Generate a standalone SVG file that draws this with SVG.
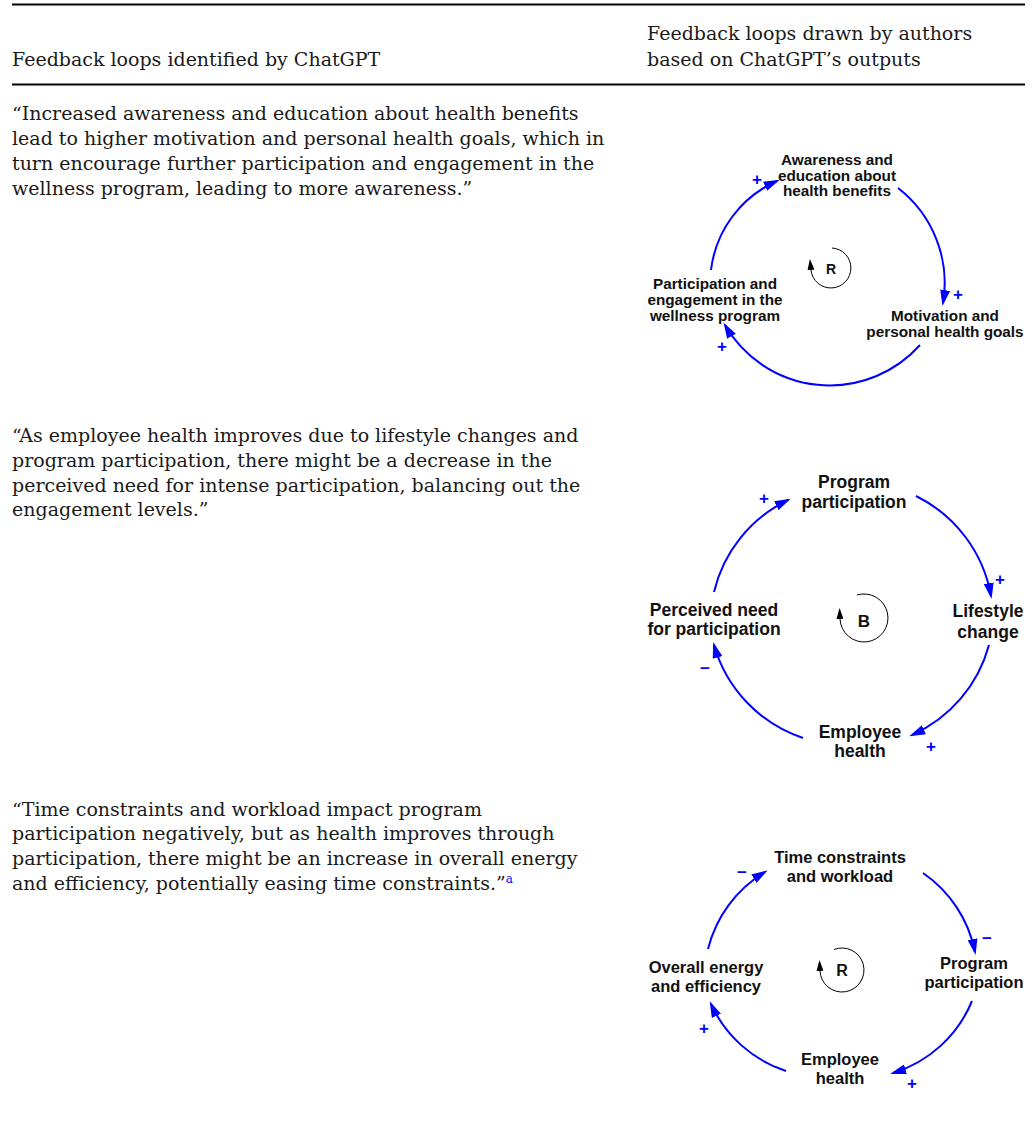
<svg xmlns="http://www.w3.org/2000/svg" width="1034" height="1138" viewBox="0 0 1034 1138">
<defs>
<style>
.body{font-family:"DejaVu Serif","Liberation Serif",serif;font-size:19px;fill:#1a1a1a}
.node{font-family:"Liberation Sans",Arial,sans-serif;font-weight:bold;fill:#111;text-anchor:middle}
.n1{font-size:15.3px}
.n2{font-size:17.5px}
.n3{font-size:16.5px}
.sign{font-family:"Liberation Sans",Arial,sans-serif;font-weight:bold;font-size:17px;fill:#0000ff;text-anchor:middle}
.link{fill:none;stroke:#0000ff;stroke-width:2;marker-end:url(#ah)}
.loopi{fill:none;stroke:#000;stroke-width:1;marker-end:url(#lh)}
.rule{stroke:#000;stroke-width:2}
</style>
<marker id="ah" markerUnits="userSpaceOnUse" markerWidth="16" markerHeight="10" refX="13" refY="5" orient="auto" viewBox="0 0 16 10">
<path d="M0,0 L16,5 L0,10 Z" fill="#0000ff"/>
</marker>
<marker id="lh" markerUnits="userSpaceOnUse" markerWidth="11" markerHeight="7" refX="0" refY="3.5" orient="auto" viewBox="0 0 11 7">
<path d="M0,0 L11,3.5 L0,7 Z" fill="#000"/>
</marker>
</defs>
<rect width="1034" height="1138" fill="#fff"/>

<g id="table">
<line class="rule" x1="12" y1="4.5" x2="1025" y2="4.5"/>
<line class="rule" x1="12" y1="84.5" x2="1025" y2="84.5"/>
<text class="body" x="12" y="66">Feedback loops identified by ChatGPT</text>
<text class="body" x="647" y="40">Feedback loops drawn by authors</text>
<text class="body" x="647" y="66">based on ChatGPT’s outputs</text>
</g>

<g id="quote1">
<text class="body" x="12" y="120">“Increased awareness and education about health benefits</text>
<text class="body" x="12" y="145">lead to higher motivation and personal health goals, which in</text>
<text class="body" x="12" y="170">turn encourage further participation and engagement in the</text>
<text class="body" x="12" y="195">wellness program, leading to more awareness.”</text>
</g>
<g id="quote2">
<text class="body" x="12" y="442">“As employee health improves due to lifestyle changes and</text>
<text class="body" x="12" y="467">program participation, there might be a decrease in the</text>
<text class="body" x="12" y="492">perceived need for intense participation, balancing out the</text>
<text class="body" x="12" y="516">engagement levels.”</text>
</g>
<g id="quote3">
<text class="body" x="12" y="816">“Time constraints and workload impact program</text>
<text class="body" x="12" y="840">participation negatively, but as health improves through</text>
<text class="body" x="12" y="865">participation, there might be an increase in overall energy</text>
<text class="body" x="12" y="890">and efficiency, potentially easing time constraints.”<tspan dy="-7" font-size="12" fill="#0000ff">a</tspan></text>
</g>

<g id="connectors">
<path class="link" d="M711,270 A112,112 0 0 1 777,181"/>
<path class="link" d="M898,188 A120,120 0 0 1 943,303"/>
<path class="link" d="M920,345 A121,121 0 0 1 725,325"/>
<path class="loopi" d="M832,248 A20,20 0 1 1 811,270"/>

<path class="link" d="M714,592 A138,138 0 0 1 788,500"/>
<path class="link" d="M916,496 A138,138 0 0 1 991,596"/>
<path class="link" d="M989,645 A138,138 0 0 1 912,735"/>
<path class="link" d="M803,738 A138,138 0 0 1 714,645"/>
<path class="loopi" d="M857,595 A24,24 0 1 1 840,619"/>

<path class="link" d="M708,949 A125,125 0 0 1 765,872"/>
<path class="link" d="M923,873 A125,125 0 0 1 975,952"/>
<path class="link" d="M972,1001 A125,125 0 0 1 893,1073"/>
<path class="link" d="M786,1071 A125,125 0 0 1 711,1004"/>
<path class="loopi" d="M834,949.5 A22,22 0 1 1 820,971"/>
</g>

<g id="signs">
<text class="sign" x="757" y="185">+</text>
<text class="sign" x="958" y="300">+</text>
<text class="sign" x="722" y="352">+</text>
<text class="sign" x="764" y="504">+</text>
<text class="sign" x="1000" y="585">+</text>
<text class="sign" x="931" y="752">+</text>
<text class="sign" x="705" y="674">−</text>
<text class="sign" x="742" y="878">−</text>
<text class="sign" x="987" y="944">−</text>
<text class="sign" x="912" y="1089">+</text>
<text class="sign" x="704" y="1034">+</text>
</g>

<g id="loop1-awareness"><text class="node n1" x="837" y="165">Awareness and</text><text class="node n1" x="837" y="180.5">education about</text><text class="node n1" x="837" y="196">health benefits</text></g>
<g id="loop1-participation"><text class="node n1" x="715" y="289">Participation and</text><text class="node n1" x="715" y="305">engagement in the</text><text class="node n1" x="715" y="321">wellness program</text></g>
<g id="loop1-motivation"><text class="node n1" x="945" y="321">Motivation and</text><text class="node n1" x="945" y="337">personal health goals</text></g>
<g id="loop1-R"><text class="node" x="831" y="274" font-size="14">R</text></g>

<g id="loop2-program"><text class="node n2" x="854" y="488">Program</text><text class="node n2" x="854" y="508">participation</text></g>
<g id="loop2-lifestyle"><text class="node n2" x="988" y="617">Lifestyle</text><text class="node n2" x="988" y="638">change</text></g>
<g id="loop2-health"><text class="node n2" x="860" y="738">Employee</text><text class="node n2" x="860" y="757">health</text></g>
<g id="loop2-need"><text class="node n2" x="714" y="616">Perceived need</text><text class="node n2" x="714" y="635">for participation</text></g>
<g id="loop2-B"><text class="node" x="864" y="627" font-size="17">B</text></g>

<g id="loop3-time"><text class="node n3" x="840" y="863">Time constraints</text><text class="node n3" x="840" y="882">and workload</text></g>
<g id="loop3-program"><text class="node n3" x="974" y="969">Program</text><text class="node n3" x="974" y="988">participation</text></g>
<g id="loop3-health"><text class="node n3" x="840" y="1065">Employee</text><text class="node n3" x="840" y="1084">health</text></g>
<g id="loop3-energy"><text class="node n3" x="706" y="973">Overall energy</text><text class="node n3" x="706" y="992">and efficiency</text></g>
<g id="loop3-R"><text class="node" x="842" y="976" font-size="16">R</text></g>
</svg>
